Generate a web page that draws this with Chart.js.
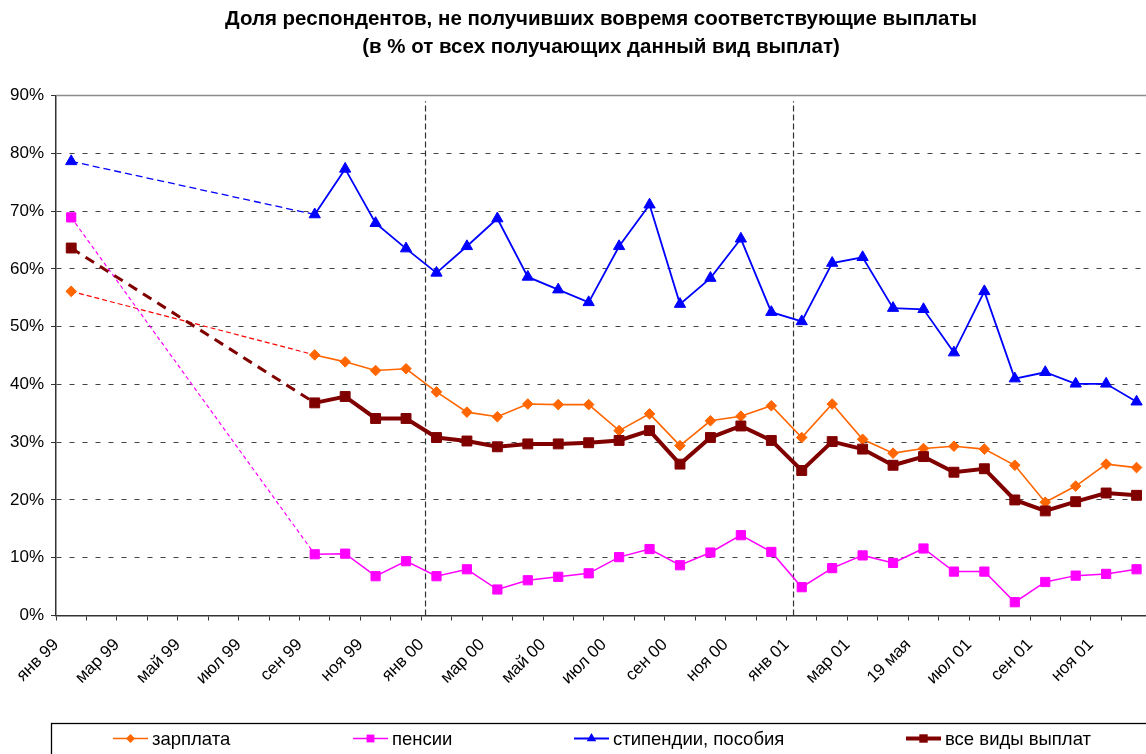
<!DOCTYPE html>
<html lang="ru">
<head>
<meta charset="utf-8">
<title>Доля респондентов, не получивших вовремя соответствующие выплаты</title>
<script src="https://cdn.jsdelivr.net/npm/chart.js"></script>
<style>
  html, body { margin: 0; padding: 0; background: #fff; overflow: hidden; }
  #wrap { width: 1146px; height: 754px; position: relative; overflow: hidden; }
</style>
</head>
<body>
<div id="wrap"><canvas id="payChart" width="1154" height="754"></canvas></div>
<script>
// month of each survey wave: 0 = янв 99, 12 = янв 00, 24 = янв 01
const surveyMonths = [0, 8, 9, 10, 11,
    12, 13, 14, 15, 16, 17, 18, 19, 20, 21, 22, 23,
    24, 25, 26, 27, 28, 29, 30, 31, 32, 33, 34, 35];

const salary = [56.1, 45.1, 43.9, 42.4, 42.7,
    38.7, 35.2, 34.4, 36.6, 36.5, 36.5, 32.0, 34.9, 29.4, 33.7, 34.5, 36.3,
    30.8, 36.6, 30.5, 28.1, 28.9, 29.3, 28.8, 26.0, 19.6, 22.4, 26.2, 25.6];
const pensions = [68.9, 10.6, 10.7, 6.8, 9.4,
    6.8, 8.0, 4.5, 6.1, 6.7, 7.3, 10.1, 11.5, 8.7, 10.9, 13.9, 11.0,
    4.9, 8.2, 10.4, 9.1, 11.6, 7.6, 7.6, 2.3, 5.8, 6.9, 7.2, 8.0];
const benefits = [78.6, 69.4, 77.3, 67.9, 63.5,
    59.3, 63.9, 68.7, 58.6, 56.4, 54.2, 63.9, 71.1, 53.9, 58.4, 65.2, 52.5,
    50.9, 61.0, 62.0, 53.2, 53.0, 45.5, 56.1, 41.0, 42.1, 40.1, 40.1, 37.0];
const allPayments = [63.6, 36.8, 37.9, 34.1, 34.1,
    30.8, 30.2, 29.2, 29.7, 29.7, 29.9, 30.3, 32.0, 26.2, 30.8, 32.8, 30.3,
    25.1, 30.1, 28.8, 26.0, 27.5, 24.8, 25.4, 20.0, 18.1, 19.7, 21.2, 20.8];

// one label for every second month
const tickLabels = ['янв 99', 'мар 99', 'май 99', 'июл 99', 'сен 99', 'ноя 99',
    'янв 00', 'мар 00', 'май 00', 'июл 00', 'сен 00', 'ноя 00',
    'янв 01', 'мар 01', '19 мая', 'июл 01', 'сен 01', 'ноя 01'];
const yearBreaks = [12.14, 24.23];
const seriesNames = ['зарплата', 'пенсии', 'стипендии, пособия', 'все виды выплат'];
const titleLines = ['Доля респондентов, не получивших вовремя соответствующие выплаты',
    '(в % от всех получающих данный вид выплат)'];

const FONT = 'Arial, "Liberation Sans", sans-serif';

function points(values) {
    return values.map((v, i) => ({ x: surveyMonths[i] + 0.5, y: v }));
}

// the jump from янв 99 to сен 99 is drawn as a thin dashed line
function gapSegment(color, width, dash) {
    return {
        borderColor: c => c.p0DataIndex === 0 ? color : undefined,
        borderWidth: c => c.p0DataIndex === 0 ? width : undefined,
        borderDash: c => c.p0DataIndex === 0 ? dash : undefined
    };
}

function series(i, values, color, width, style, radius, gap, order) {
    return {
        label: seriesNames[i], data: points(values),
        borderColor: color, backgroundColor: color, borderWidth: width,
        pointStyle: style, pointRadius: radius, pointBorderWidth: 1,
        pointBackgroundColor: color, pointBorderColor: color,
        segment: gap, order: order, fill: false, tension: 0
    };
}

const datasets = [
    series(0, salary, '#FF6600', 1.6, 'rectRot', 5.3, gapSegment('#FF0000', 1.2, [5, 3]), 3),
    series(1, pensions, '#FF00FF', 1.5, 'rect', 6.5, gapSegment('#FF00FF', 1.2, [4, 3]), 2),
    series(2, benefits, '#0000FF', 1.8, 'triangle', 6.5, gapSegment('#0000FF', 1.3, [7, 4]), 1),
    series(3, allPayments, '#800000', 4, 'rect', 7, gapSegment('#800000', 3, [10, 7]), 0)
];
yearBreaks.forEach(m => datasets.push({
    label: '', data: [{ x: m, y: 0 }, { x: m, y: 89 }],
    borderColor: '#333', borderWidth: 1.2, borderDash: [6, 3],
    pointRadius: 0, order: 5, fill: false
}));

function drawMarker(ctx, style, r, x, y) {
    ctx.beginPath();
    if (style === 'rectRot') {
        ctx.moveTo(x, y - r); ctx.lineTo(x + r, y); ctx.lineTo(x, y + r); ctx.lineTo(x - r, y);
    } else if (style === 'triangle') {
        ctx.moveTo(x, y - r); ctx.lineTo(x + r * 0.866, y + r / 2); ctx.lineTo(x - r * 0.866, y + r / 2);
    } else {
        const s = r * Math.SQRT1_2;
        ctx.rect(x - s, y - s, 2 * s, 2 * s);
    }
    ctx.closePath();
    ctx.fill();
}

const frameAndLegend = {
    id: 'frameAndLegend',
    afterDraw(chart) {
        const { ctx, chartArea } = chart;
        ctx.save();
        ctx.strokeStyle = '#8c8c8c';
        ctx.lineWidth = 1.5;
        ctx.beginPath();
        ctx.moveTo(chartArea.left, chartArea.top);
        ctx.lineTo(chartArea.right, chartArea.top);
        ctx.stroke();

        ctx.strokeStyle = '#000';
        ctx.lineWidth = 1.3;
        ctx.strokeRect(51.5, 723.5, 1200, 100);

        const slots = [113, 353, 574, 906];
        const lineY = 738.5;
        ctx.font = '18.5px ' + FONT;
        ctx.textBaseline = 'middle';
        for (let i = 0; i < 4; i++) {
            const ds = chart.data.datasets[i];
            const x0 = slots[i];
            ctx.strokeStyle = ds.borderColor;
            ctx.lineWidth = ds.borderWidth;
            ctx.beginPath();
            ctx.moveTo(x0, lineY);
            ctx.lineTo(x0 + 35, lineY);
            ctx.stroke();
            ctx.fillStyle = ds.borderColor;
            drawMarker(ctx, ds.pointStyle, ds.pointRadius * 0.85, x0 + 17.5, lineY);
            ctx.fillStyle = '#000';
            ctx.fillText(ds.label, x0 + 39, lineY + 1.5);
        }
        ctx.restore();
    }
};

new Chart(document.getElementById('payChart'), {
    type: 'line',
    data: { datasets },
    plugins: [frameAndLegend],
    options: {
        responsive: false,
        animation: false,
        devicePixelRatio: 1,
        layout: { padding: 0 },
        plugins: {
            legend: { display: false },
            tooltip: { enabled: false },
            title: {
                display: true, text: titleLines, fullSize: false, color: '#000',
                font: { family: FONT, size: 20.5, weight: 'bold', lineHeight: '28px' },
                padding: { top: 5, bottom: 34.5 }
            }
        },
        scales: {
            x: {
                type: 'linear', min: 0, max: 35.81,
                afterFit: s => { s.height = 138.5; s.paddingLeft = 0; s.paddingRight = 0; },
                ticks: {
                    stepSize: 1, autoSkip: false, includeBounds: false,
                    minRotation: 45, maxRotation: 45, padding: 17, color: '#000',
                    font: { family: FONT, size: 17, lineHeight: '13px' },
                    callback: v => (Math.round(v) % 2 === 0 ? tickLabels[Math.round(v) / 2] : '')
                },
                grid: { drawOnChartArea: false, drawTicks: true, tickLength: 5, tickColor: '#333', tickWidth: 1 },
                border: { color: '#333', width: 1.5 }
            },
            y: {
                min: 0, max: 90,
                afterFit: s => { s.width = 56; },
                ticks: {
                    stepSize: 10, padding: 7, color: '#000',
                    font: { family: FONT, size: 17 },
                    callback: v => v + '%'
                },
                grid: {
                    color: c => (c.tick && (c.tick.value === 0 || c.tick.value === 90)) ? 'rgba(0,0,0,0)' : '#444',
                    lineWidth: 1, drawTicks: true, tickLength: 5, tickColor: '#333'
                },
                border: { color: '#333', width: 1.5, dash: [5, 8] }
            }
        }
    }
});
</script>
</body>
</html>
